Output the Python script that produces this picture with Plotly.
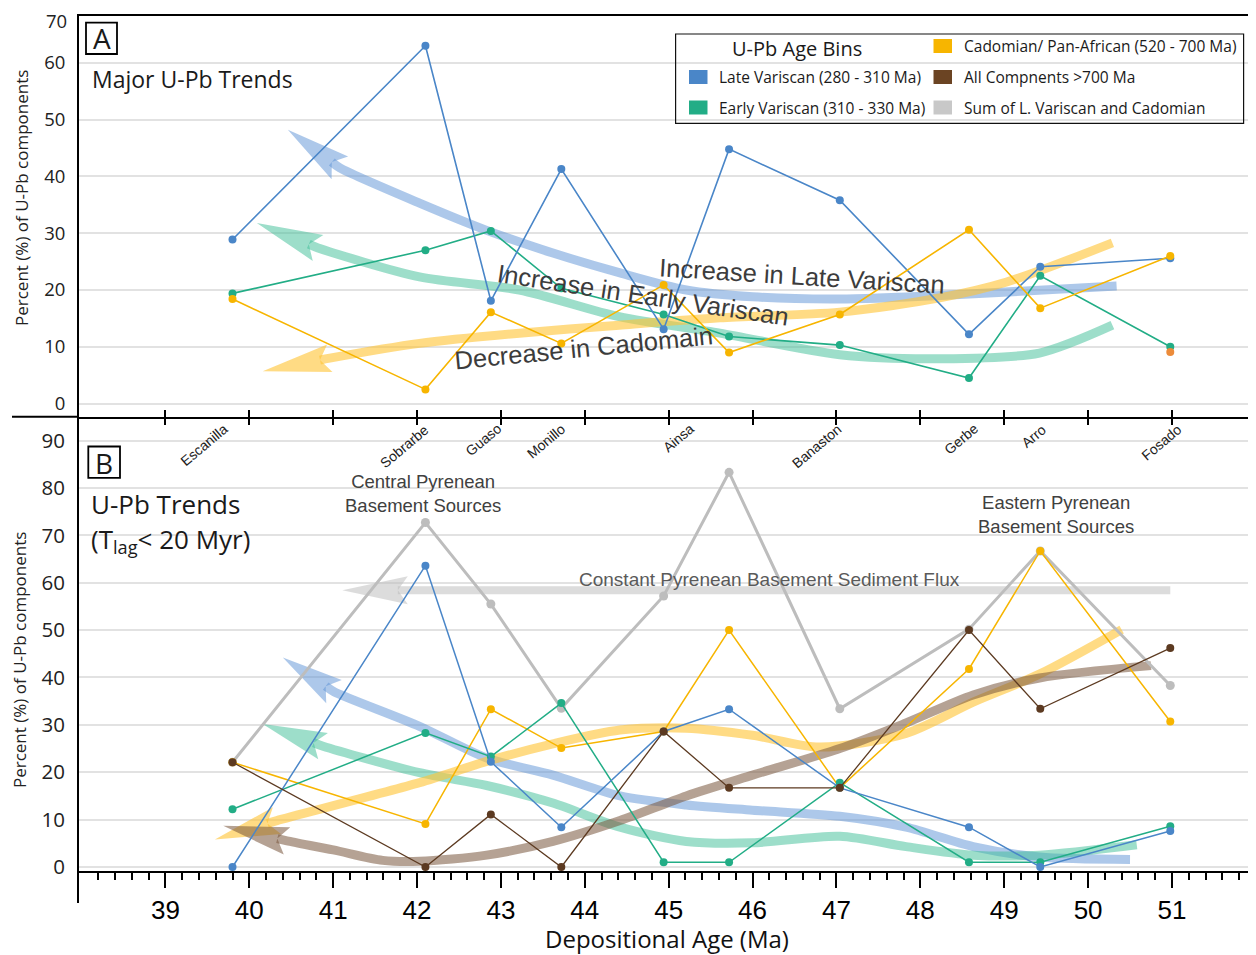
import math
import plotly.graph_objects as go

OPEN = "Open Sans, Noto Sans, sans-serif"
ARIAL = "Liberation Sans, Arial, sans-serif"

# ---------------- data ----------------
age = [39.8, 42.1, 42.88, 43.72, 44.94, 45.72, 47.04, 48.58, 49.43, 50.98]

# Panel A - major U-Pb trends (%)
a_late_variscan = [28.9, 63.0, 18.1, 41.3, 13.1, 44.8, 35.8, 12.2, 24.1, 25.6]
a_early_variscan = [19.4, 27.0, 30.4, 20.3, 15.7, 11.8, 10.3, 4.5, 22.5, 10.0]
a_cadomian = [18.4, 2.5, 16.1, 10.6, 20.9, 9.0, 15.7, 30.6, 16.8, 26.0]
a_extra_age = [50.98]
a_extra_val = [9.1]

# Panel B - U-Pb trends, Tlag < 20 Myr (%)
b_late_variscan = [0.0, 63.6, 22.2, 8.4, 28.6, 33.3, 16.7, 8.4, 0.0, 7.6]
b_early_variscan = [12.2, 28.3, 23.3, 34.6, 1.0, 1.0, 17.8, 1.0, 1.0, 8.6]
b_cadomian = [22.1, 9.1, 33.3, 25.1, 28.6, 50.0, 16.7, 41.8, 66.7, 30.7]
b_older_700 = [22.1, 0.0, 11.1, 0.0, 28.6, 16.7, 16.7, 50.0, 33.4, 46.2]
b_sum_lv_cad = [22.1, 72.7, 55.5, 33.5, 57.2, 83.3, 33.4, 50.2, 66.7, 38.3]

site_names = ["Escanilla", "Sobrarbe", "Guaso", "Monillo", "Ainsa",
              "Banaston", "Gerbe", "Arro", "Fosado"]
site_label_age = [39.75, 42.15, 43.01, 43.78, 45.31, 47.07, 48.70, 49.51, 51.13]

x_ticks = list(range(39, 52))
ya_ticks = [0, 10, 20, 30, 40, 50, 60]
yb_ticks = [0, 10, 20, 30, 40, 50, 60, 70, 80, 90]

# hand-drawn trend arrows (first point = arrow tip, second = arrow base)
ta_lv_x = [40.46, 41.08, 42.03, 42.83, 43.62, 44.42, 45.21, 46.0, 47.04, 48.35, 50.34]
ta_lv_y = [48.2, 41.5, 35.3, 30.5, 26.5, 23.0, 20.0, 18.8, 18.4, 19.1, 20.7]
ta_ev_x = [40.09, 40.82, 42.03, 43.22, 44.41, 45.61, 47.04, 48.23, 49.42, 50.29]
ta_ev_y = [31.8, 27.4, 22.3, 20.0, 15.3, 12.4, 8.6, 7.9, 8.9, 13.8]
ta_cad_x = [40.16, 40.96, 42.03, 43.22, 44.41, 45.61, 47.04, 48.23, 49.03, 50.29]
ta_cad_y = [5.7, 8.0, 10.6, 12.4, 13.8, 15.1, 16.1, 18.6, 21.4, 28.3]

tb_lv_x = [40.40, 41.01, 42.03, 42.83, 43.62, 44.42, 45.21, 46.0, 47.04, 47.83, 48.63, 49.42, 50.5]
tb_lv_y = [44.2, 37.0, 29.7, 23.0, 19.4, 15.0, 13.1, 12.0, 10.7, 8.4, 4.3, 2.1, 1.6]
tb_ev_x = [40.16, 40.88, 42.03, 42.83, 43.62, 44.42, 45.21, 46.0, 47.04, 47.83, 48.63, 49.42, 50.58]
tb_ev_y = [30.2, 25.5, 19.9, 17.2, 13.5, 8.4, 5.4, 5.1, 6.5, 4.3, 2.5, 2.5, 4.7]
tb_cad_x = [39.59, 40.33, 42.03, 42.83, 43.62, 44.42, 45.21, 46.0, 46.8, 47.83, 48.63, 49.42, 50.4]
tb_cad_y = [5.8, 9.8, 17.8, 22.3, 26.0, 28.9, 29.3, 27.8, 25.3, 28.2, 34.8, 40.7, 50.1]
tb_old_x = [39.69, 40.45, 41.0, 41.59, 42.03, 42.83, 43.62, 44.42, 45.21, 46.0, 47.04, 47.83, 48.63, 49.42, 50.75]
tb_old_y = [8.7, 5.5, 3.6, 1.4, 1.2, 2.5, 5.4, 9.8, 15.0, 19.4, 25.0, 30.4, 36.3, 39.9, 42.5]
tb_sum_x = [41.11, 41.89, 50.98]
tb_sum_y = [58.4, 58.4, 58.4]

# ---------------- layout geometry ----------------
OFF = 8                      # page body margin of the html page
W, H = 1256 - OFF, 955 - OFF
ML, MR, MT, MB = 79 - OFF, 1, 16 - OFF, 52
PW = W - ML - MR
PH = H - MT - MB
BOTTOM = H - MB + OFF        # page y of plot-area bottom
SPLIT = (BOTTOM - 416.7) / PH
XR = [37.97, 51.99]
YRA = [-2.31, 68.24]
YRB = [-7.60, 95.04]
XB_POS = (BOTTOM - 871.7) / PH

SX = PW / (XR[1] - XR[0])
SYA = PH * (1 - SPLIT) / (YRA[1] - YRA[0])
SYB = PH * SPLIT / (YRB[1] - YRB[0])


def PX(px):
    return (px - OFF - ML) / PW


def PY(py):
    return (BOTTOM - py) / PH


C_LV = "#4A86C8"
C_EV = "#22AD86"
C_CAD = "#F7B500"
C_OLD = "#5C3A21"
C_SUM = "#BDBDBD"
C_EXTRA = "#EC8B3A"

T_LV = "rgba(91,146,214,0.5)"
T_EV = "rgba(60,190,150,0.5)"
T_CAD = "rgba(255,195,50,0.6)"
T_OLD = "rgba(120,85,60,0.55)"
T_SUM = "rgba(185,185,185,0.5)"

fig = go.Figure()


def add_trend(xs, ys, color, xa, ya, sy, lw=9, head_w=28, notch=10):
    tx, ty, bx, by = xs[0], ys[0], xs[1], ys[1]
    dx, dy = (bx - tx) * SX, (by - ty) * sy
    L = math.hypot(dx, dy)
    ux, uy = dx / L, dy / L
    nx, ny = -uy, ux
    h = head_w / 2
    pts = [(0, 0), (dx + nx * h, dy + ny * h), (dx - ux * notch, dy - uy * notch),
           (dx - nx * h, dy - ny * h), (0, 0)]
    hx = [tx + p[0] / SX for p in pts]
    hy = [ty + p[1] / sy for p in pts]
    sx0 = tx + (dx - ux * notch) / SX
    sy0 = ty + (dy - uy * notch) / sy
    fig.add_trace(go.Scatter(x=[sx0] + xs[1:], y=[sy0] + ys[1:], mode="lines",
                             line=dict(color=color, width=lw, shape="spline", smoothing=0.8),
                             xaxis=xa, yaxis=ya, showlegend=False, hoverinfo="skip"))
    fig.add_trace(go.Scatter(x=hx, y=hy, mode="lines", fill="toself", fillcolor=color,
                             line=dict(width=0, color=color),
                             xaxis=xa, yaxis=ya, showlegend=False, hoverinfo="skip"))


def add_series(y, color, xa, ya, name, width=1.6, msize=8, x=None):
    fig.add_trace(go.Scatter(x=x if x is not None else age, y=y, mode="lines+markers", name=name,
                             line=dict(color=color, width=width),
                             marker=dict(color=color, size=msize),
                             xaxis=xa, yaxis=ya, showlegend=False, cliponaxis=False))


# Panel A trends
add_trend(ta_lv_x, ta_lv_y, T_LV, "x", "y", SYA)
add_trend(ta_ev_x, ta_ev_y, T_EV, "x", "y", SYA)
add_trend(ta_cad_x, ta_cad_y, T_CAD, "x", "y", SYA)
# Panel A data
add_series(a_early_variscan, C_EV, "x", "y", "Early Variscan (310 - 330 Ma)")
add_series(a_late_variscan, C_LV, "x", "y", "Late Variscan (280 - 310 Ma)")
add_series(a_cadomian, C_CAD, "x", "y", "Cadomian/ Pan-African (520 - 700 Ma)")
add_series(a_extra_val, C_EXTRA, "x", "y", "other", x=a_extra_age)

# Panel B trends
add_trend(tb_sum_x, tb_sum_y, T_SUM, "x2", "y2", SYB, lw=8)
add_trend(tb_lv_x, tb_lv_y, T_LV, "x2", "y2", SYB)
add_trend(tb_ev_x, tb_ev_y, T_EV, "x2", "y2", SYB)
add_trend(tb_cad_x, tb_cad_y, T_CAD, "x2", "y2", SYB)
add_trend(tb_old_x, tb_old_y, T_OLD, "x2", "y2", SYB)
# Panel B data
add_series(b_sum_lv_cad, C_SUM, "x2", "y2", "Sum of L. Variscan and Cadomian", width=3, msize=9)
add_series(b_cadomian, C_CAD, "x2", "y2", "Cadomian/ Pan-African (520 - 700 Ma)", width=1.5)
add_series(b_early_variscan, C_EV, "x2", "y2", "Early Variscan (310 - 330 Ma)", width=1.5)
add_series(b_late_variscan, C_LV, "x2", "y2", "Late Variscan (280 - 310 Ma)", width=1.5)
add_series(b_older_700, C_OLD, "x2", "y2", "All Compnents >700 Ma", width=1.3)

# helper trace for the downward half of the panel-A ticks
fig.add_trace(go.Scatter(x=[None], y=[None], xaxis="x3", yaxis="y", showlegend=False, hoverinfo="skip"))

# ---------------- annotations ----------------
ann = []


def text(px, py, s, size, family=OPEN, color="#1a1a1a", xanchor="center", yanchor="middle", angle=0):
    ann.append(dict(x=PX(px), y=PY(py), xref="paper", yref="paper", text=s, showarrow=False,
                    font=dict(size=size, family=family, color=color),
                    xanchor=xanchor, yanchor=yanchor, textangle=angle))


text(101.5, 38.5, "A", 28)
text(104.2, 462.5, "B", 28)
text(90, 79.5, "Major U-Pb Trends", 23, xanchor="left")
text(89, 503.5, "U-Pb Trends", 26, xanchor="left")
text(89, 540, "(T<sub>lag</sub>< 20 Myr)", 26, xanchor="left")
text(69, 20.7, "70", 18.5, color="#222", xanchor="right")
# panel A y-axis title (placed at the same height as in the source figure)
text(21.5, 198.5, "Percent (%) of U-Pb components", 17, color="#222", angle=-90)

text(802, 276, "Increase in Late Variscan", 25.5, ARIAL, "#3c3c3c", angle=3.5)
text(643, 295, "Increase in Early Variscan", 25.5, ARIAL, "#3c3c3c", angle=8.6)
text(583, 348, "Decrease in Cadomain", 25.5, ARIAL, "#3c3c3c", angle=-5.6)

text(423.3, 493, "Central Pyrenean<br>Basement Sources", 18.5, ARIAL, "#404040")
text(1055.5, 514, "Eastern Pyrenean<br>Basement Sources", 18.5, ARIAL, "#404040")
text(769.5, 579.6, "Constant Pyrenean Basement Sediment Flux", 19, ARIAL, "#5a5a5a")

for name, xa in zip(site_names, site_label_age):
    ann.append(dict(x=xa, y=PY(418), xref="x2", yref="paper", text=name, showarrow=False,
                    font=dict(size=14, family=ARIAL, color="#222"), xshift=5,
                    xanchor="right", yanchor="top", textangle=-40))

# legend (manual, two columns)
text(797, 48.5, "U-Pb Age Bins", 20)
leg_left = [("Late Variscan (280 - 310 Ma)", C_LV, 77), ("Early Variscan (310 - 330 Ma)", C_EV, 107.5)]
leg_right = [("Cadomian/ Pan-African (520 - 700 Ma)", C_CAD, 46),
             ("All Compnents >700 Ma", "#6B4423", 77),
             ("Sum of L. Variscan and Cadomian", "#C8C8C8", 107.5)]
shapes = []
for items, sx0, tx0 in ((leg_left, 689, 717), (leg_right, 933.5, 961.5)):
    for label, col, yc in items:
        shapes.append(dict(type="rect", xref="paper", yref="paper",
                           x0=PX(sx0), x1=PX(sx0 + 18.5), y0=PY(yc + 7), y1=PY(yc - 7),
                           fillcolor=col, line=dict(width=0)))
        text(tx0, yc, label, 15.5, xanchor="left")
shapes.append(dict(type="rect", xref="paper", yref="paper",
                   x0=PX(675.6), x1=PX(1243.6), y0=PY(123.3), y1=PY(34),
                   line=dict(color="#111", width=1.2)))
# panel-letter boxes
shapes.append(dict(type="rect", xref="paper", yref="paper", x0=PX(86), x1=PX(117),
                   y0=PY(54), y1=PY(22.7), line=dict(color="black", width=1.8)))
shapes.append(dict(type="rect", xref="paper", yref="paper", x0=PX(88.3), x1=PX(120),
                   y0=PY(477.8), y1=PY(446.5), line=dict(color="black", width=1.8)))
# divider extends left through label column
shapes.append(dict(type="line", xref="paper", yref="paper", x0=PX(12), x1=0,
                   y0=SPLIT, y1=SPLIT, line=dict(color="black", width=2)))

minor_vals = [round(38 + 0.2 * k, 1) for k in range(1, 70) if k % 5 != 0]

grid = "#E2E2E2"
fig.update_layout(
    width=W, height=H, template="none",
    paper_bgcolor="white", plot_bgcolor="white",
    margin=dict(l=ML, r=MR, t=MT, b=MB, autoexpand=False),
    showlegend=False,
    annotations=ann, shapes=shapes,
    xaxis=dict(domain=[0, 1], anchor="y", range=XR, showgrid=False, zeroline=False,
               showline=True, linecolor="black", linewidth=2, mirror=True,
               ticks="inside", ticklen=7, tickwidth=2, tickcolor="black",
               tickmode="array", tickvals=x_ticks, showticklabels=False),
    xaxis3=dict(overlaying="x", anchor="y", range=XR, showgrid=False, zeroline=False,
                showline=False, ticks="outside", ticklen=7, tickwidth=2, tickcolor="black",
                tickmode="array", tickvals=x_ticks, showticklabels=False),
    yaxis=dict(domain=[SPLIT, 1], anchor="x", range=YRA, showgrid=True, gridcolor=grid, gridwidth=1.5,
               zeroline=False, showline=True, linecolor="black", linewidth=2, mirror=True,
               ticks="", tickmode="array", tickvals=ya_ticks, ticklabelstandoff=8,
               tickfont=dict(family=OPEN, size=18.5, color="#222"), automargin=False),
    xaxis2=dict(domain=[0, 1], anchor="free", position=XB_POS, range=XR, showgrid=False,
                zeroline=False, showline=True, linecolor="black", linewidth=2,
                ticks="outside", ticklen=15, tickwidth=2, tickcolor="black",
                tickmode="array", tickvals=x_ticks, ticktext=[str(v) for v in x_ticks],
                tickfont=dict(family=ARIAL, size=26, color="black"), automargin=False,
                minor=dict(tickmode="array", tickvals=minor_vals, ticks="outside",
                           ticklen=7, tickwidth=2, tickcolor="black"),
                title=dict(text="Depositional Age (Ma)", standoff=10,
                           font=dict(family=OPEN, size=24, color="#111"))),
    yaxis2=dict(domain=[0, SPLIT], anchor="x2", range=YRB, showgrid=True, gridcolor=grid, gridwidth=1.5,
                zeroline=False, showline=True, linecolor="black", linewidth=2, mirror=True,
                ticks="", tickmode="array", tickvals=yb_ticks, ticklabelstandoff=8,
                tickfont=dict(family=OPEN, size=20.5, color="#222"), automargin=False,
                title=dict(text="Percent (%) of U-Pb components", standoff=12,
                           font=dict(family=OPEN, size=17, color="#222"))),
)

fig.write_html("out.html")
